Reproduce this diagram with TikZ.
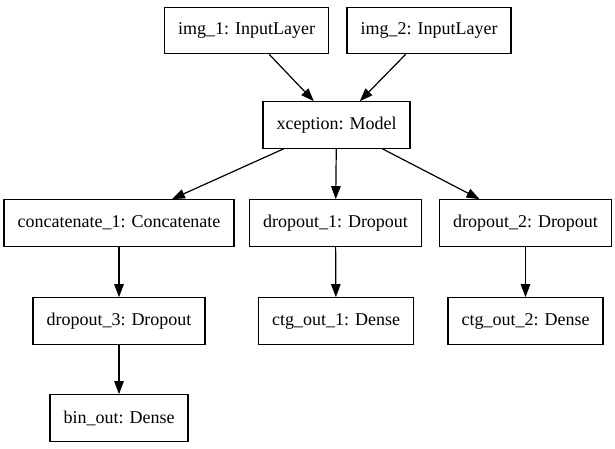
\documentclass[tikz,border=0pt]{standalone}
\usepackage{fontspec}
\setmainfont{Liberation Serif}
\usetikzlibrary{arrows.meta}

\begin{document}
\begin{tikzpicture}[x = 1pt, y = -1pt, % pixel units, y downwards
                >={Triangle[length=13pt, width=9.5pt]}, % arrow head style
                line width = 1.2pt % line style
            ]

            \tikzstyle{every node}=[draw = black, rectangle, inner xsep = 13.5pt,
            minimum height = 46.5pt, font = \fontsize{18}{20}\selectfont]

            \useasboundingbox (0,0) rectangle (615,449);

            \node (img1) at (246.5,30.5) {img\_1: InputLayer};
            \node (img2) at (429,30.5) {img\_2: InputLayer};
            \node (xcep) at (336.5,125) {xception: Model};
            \node (concat) at (119,223) {concatenate\_1: Concatenate};
            \node (drop1) at (335.5,223) {dropout\_1: Dropout};
            \node (drop2) at (525.5,223) {dropout\_2: Dropout};
            \node (drop3) at (119,321) {dropout\_3: Dropout};
            \node (ctg1) at (336,321) {ctg\_out\_1: Dense};
            \node (ctg2) at (525.5,321) {ctg\_out\_2: Dense};
            \node (bin) at (119,418) {bin\_out: Dense};

            \path[->] (img1) edge (xcep); \path[->] (img2) edge (xcep);
            \path[->] (xcep) edge (concat); \path[->] (xcep) edge (drop1);
            \path[->] (xcep) edge (drop2); \path[->] (concat) edge (drop3);
            \path[->] (drop3) edge (bin); \path[->] (drop1) edge (ctg1);
            \path[->] (drop2) edge (ctg2);
        \end{tikzpicture}
\end{document}
